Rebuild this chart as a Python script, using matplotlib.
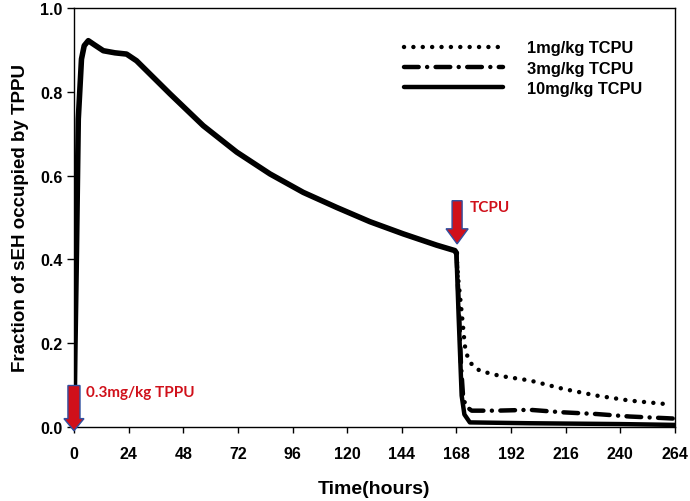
import numpy as np
import matplotlib
matplotlib.use("Agg")
import matplotlib.pyplot as plt
from matplotlib.lines import Line2D
from matplotlib.patches import FancyArrow

plt.rcParams['font.family'] = ['Liberation Sans', 'DejaVu Sans']

# TPPU occupancy before TCPU dose (shared by all groups)
pre_t = [0, 0.4, 1.1, 1.9, 3.3, 4.5, 6.3, 9, 12.9, 18, 23.1, 27.5, 42.2,
         56.8, 71.5, 86.1, 100.7, 115.4, 130, 144.6, 159.3, 167.3, 168]
pre_y = [0, 0.18, 0.42, 0.735, 0.878, 0.91, 0.922, 0.912, 0.898, 0.893,
         0.890, 0.874, 0.795, 0.719, 0.656, 0.604, 0.560, 0.524, 0.490,
         0.461, 0.434, 0.421, 0.415]

# after TCPU at 168 h
t_1mg = [168, 168.8, 170.3, 171.7, 173, 174.7, 178.3, 187.1, 200.3, 214.9,
         229.5, 244.2, 259.6, 262]
y_1mg = [0.415, 0.353, 0.274, 0.194, 0.165, 0.150, 0.134, 0.122, 0.111,
         0.091, 0.075, 0.063, 0.055, 0.053]
t_3mg = [168, 169, 170, 171, 172.5, 174.7, 185.6, 200.3, 214.9, 229.5,
         244.2, 260.3, 264]
y_3mg = [0.415, 0.30, 0.15, 0.067, 0.048, 0.039, 0.039, 0.041, 0.035,
         0.031, 0.025, 0.021, 0.020]
t_10mg = [168, 169, 170.3, 171.5, 173.9, 200, 240, 264]
y_10mg = [0.415, 0.26, 0.075, 0.03, 0.011, 0.009, 0.007, 0.005]

labels = ['1mg/kg TCPU', '3mg/kg TCPU', '10mg/kg TCPU']
xticks = [0, 24, 48, 72, 96, 120, 144, 168, 192, 216, 240, 264]
yticks = [0.0, 0.2, 0.4, 0.6, 0.8, 1.0]

fig = plt.figure(figsize=(6.9, 5.02), dpi=100)
ax = fig.add_axes([0.1072, 0.1474, 0.8710, 0.8347])

lw = 3.2
dot_ls = (0, (0.01, 2.1))
dashdot_ls = (0, (3.3, 1.9, 0.01, 1.9))

ax.plot(pre_t, pre_y, color='black', lw=4.0, solid_joinstyle='round',
        solid_capstyle='round')
ax.plot(t_1mg, y_1mg, color='black', lw=lw, ls=dot_ls, dash_capstyle='round')
ax.plot(t_3mg, y_3mg, color='black', lw=lw, ls=dashdot_ls, dash_capstyle='round')
ax.plot(t_10mg, y_10mg, color='black', lw=lw, solid_capstyle='round')

ax.set_xlim(0, 264)
ax.set_ylim(0, 1.0)
ax.set_xticks(xticks)
ax.set_yticks(yticks)
ax.set_yticklabels(['%.1f' % v for v in yticks])
ax.tick_params(direction='out', width=1, labelsize=11.5)
ax.tick_params(axis='x', length=4.5, pad=9)
ax.tick_params(axis='y', length=5, pad=3)
for lab in ax.get_xticklabels() + ax.get_yticklabels():
    lab.set_fontweight('bold')
for sp in ax.spines.values():
    sp.set_linewidth(1)

ax.set_xlabel('Time(hours)', fontsize=14, fontweight='bold', labelpad=14)
ax.set_ylabel('Fraction of sEH occupied by TPPU', fontsize=13.5,
              fontweight='bold', labelpad=8)

# legend
handles = [Line2D([], [], color='black', lw=lw, ls=dot_ls, dash_capstyle='round'),
           Line2D([], [], color='black', lw=lw, ls=dashdot_ls, dash_capstyle='round'),
           Line2D([], [], color='black', lw=lw, solid_capstyle='round')]
ax.legend(handles, labels, loc='upper left', bbox_to_anchor=(0.525, 0.958),
          frameon=False, handlelength=6.0, handletextpad=1.5,
          labelspacing=0.32, prop={'weight': 'bold', 'size': 11.8})

# dosing arrows
red = '#d0101a'
blue = '#3050a0'
ax.add_patch(FancyArrow(0, 0.099, 0, -0.108, width=5.3, head_width=8.8,
                        head_length=0.029, length_includes_head=True,
                        fc=red, ec=blue, lw=1, clip_on=False, zorder=5))
ax.add_patch(FancyArrow(168.3, 0.54, 0, -0.103, width=4.4, head_width=9.7,
                        head_length=0.036, length_includes_head=True,
                        fc=red, ec=blue, lw=1, clip_on=False, zorder=5))
ax.text(5.3, 0.084, '0.3mg/kg TPPU', color=red, fontsize=11,
        fontweight='bold', family=['Lato', 'DejaVu Sans'], va='center')
ax.text(173.9, 0.524, 'TCPU', color=red, fontsize=11,
        fontweight='bold', family=['Lato', 'DejaVu Sans'], va='center')

fig.savefig('out.png', dpi=100)
